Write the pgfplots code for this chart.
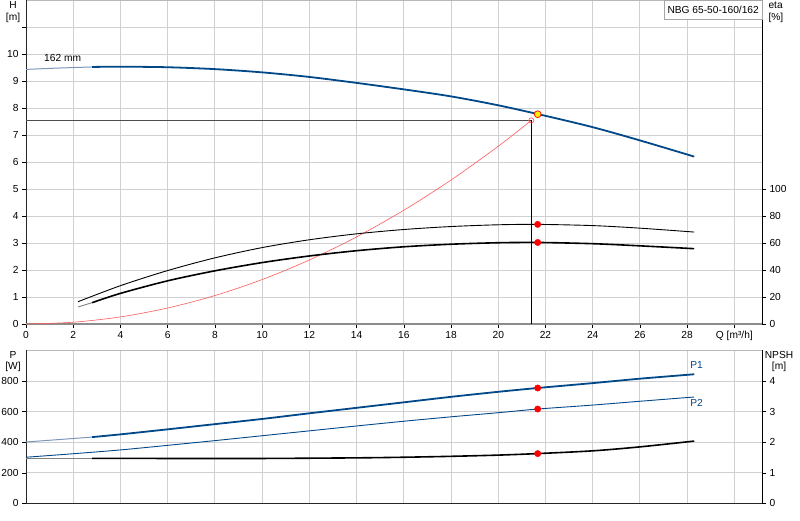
\documentclass[border=0pt]{standalone}
\usepackage{pgfplots}
\pgfplotsset{compat=1.18}
\usepackage{fontspec}
\setmainfont{Liberation Sans}

\definecolor{hblue}{RGB}{0,72,136}
\definecolor{hbluelight}{RGB}{125,150,185}
\definecolor{gridgray}{RGB}{208,208,212}
\definecolor{syscurve}{RGB}{255,90,90}
\newcommand\lblfont{\fontsize{10.2}{12}\selectfont}

\pgfplotsset{
  base/.style={
    scale only axis, width=736pt, xmin=0, xmax=31.17,
    anchor=south west, clip=false,
    axis line style={draw=none},
    tick style={black, line width=0.6pt},
    major tick length=4pt, tick align=outside,
    ticklabel style={font=\lblfont},
    /pgf/number format/assume math mode=true,
  },
  leftgrid/.style={
    grid=major, grid style={color=gridgray, line width=0.9pt},
    xtick={0,2,...,30}, xtick pos=bottom, ytick pos=left,
  },
  overlay/.style={
    xtick=\empty, ytick pos=right, yticklabel pos=right,
  },
}

\begin{document}
\begin{tikzpicture}[x=1pt,y=1pt]
\path[use as bounding box] (0,0) rectangle (800,-520);

% ---------- upper diagram: head ----------
\begin{axis}[base, leftgrid, at={(26pt,-324pt)}, height=324pt,
  ymin=0, ymax=12,
  ytick={0,1,2,3,4,5,6,7,8,9,10,11},
  yticklabels={0,1,2,3,4,5,6,7,8,9,10,{}},
  xticklabels={0,2,4,6,8,10,12,14,16,18,20,22,24,26,28,{Q [m³/h]}},
]
\draw[gray!55] (rel axis cs:0,1) -- (rel axis cs:1,1);
\draw[black!85, line width=1pt] (rel axis cs:0,0) -- (rel axis cs:0,1);
\draw[gray!90, line width=1.6pt] (rel axis cs:0,0) -- (rel axis cs:1,0);
\draw[black, line width=1pt] (rel axis cs:1,0) -- (rel axis cs:1,1);

% system curve
\addplot[syscurve, line width=0.6pt, smooth] coordinates {
  (0,0) (2,0.066) (4,0.263) (6,0.593) (8,1.053) (10,1.646) (12,2.370)
  (14,3.226) (16,4.214) (18,5.333) (20,6.584) (21.4,7.54)};
% duty point lines
\addplot[black!70, line width=0.8pt] coordinates {(0,7.54) (21.4,7.54)};
\addplot[black, line width=0.8pt] coordinates {(21.4,7.54) (21.4,0)};
% pump curve
\addplot[hbluelight, line width=1pt, smooth] coordinates {
  (0,9.43) (1.4,9.48) (2.8,9.52)};
\addplot[hblue, line width=1.8pt, smooth] coordinates {
  (2.8,9.52) (4,9.53) (6,9.51) (8,9.44) (10,9.32) (12,9.15) (14,8.93)
  (16,8.69) (18,8.43) (20,8.10) (22,7.71) (24,7.29) (26,6.80) (28.3,6.20)};
\addplot[only marks, mark=o, mark size=2.6pt, syscurve, line width=0.7pt]
  coordinates {(21.4,7.54)};
\addplot[only marks, mark=*, mark size=3.4pt, draw=red!85!orange,
  fill=yellow, line width=0.8pt] coordinates {(21.67,7.77)};
\node[font=\lblfont] at (axis cs:1.55,9.85) {162 mm};
\end{axis}

% ---------- upper diagram: efficiency ----------
\begin{axis}[base, overlay, at={(26pt,-324pt)}, height=324pt,
  ymin=0, ymax=240, ytick={0,20,40,60,80,100},
]
\addplot[black, line width=0.9pt, smooth] coordinates {
  (2.2,16.5) (4,28.4) (6,39.6) (8,49.0) (10,56.6) (12,62.4) (14,66.8)
  (16,70.0) (18,72.2) (20,73.5) (21.67,73.8) (24,72.9) (26,71.0) (28.3,68.1)};
\addplot[gray, line width=0.9pt] coordinates {(2.2,12.6) (2.8,15.8)};
\addplot[black, line width=1.6pt, smooth] coordinates {
  (2.8,15.8) (4,22.7) (6,32.0) (8,39.4) (10,45.5) (12,50.4) (14,54.3)
  (16,57.2) (18,59.1) (20,60.2) (21.67,60.4) (24,59.5) (26,57.9) (28.3,55.8)};
\addplot[only marks, mark=*, mark size=3.2pt, red] coordinates {
  (21.67,73.8) (21.67,60.4)};
\end{axis}

% ---------- lower diagram: power ----------
\begin{axis}[base, leftgrid, at={(26pt,-503.3pt)}, height=153.3pt,
  ymin=0, ymax=1005, ytick={0,200,400,600,800},
  xticklabels={}, xtick style={draw=none},
]
\draw[gray!55] (rel axis cs:0,1) -- (rel axis cs:1,1);
\draw[black!85, line width=1pt] (rel axis cs:0,0) -- (rel axis cs:0,1);
\draw[black!85, line width=1pt] (rel axis cs:0,0) -- (rel axis cs:1,0);
\draw[black, line width=1pt] (rel axis cs:1,0) -- (rel axis cs:1,1);

\addplot[hbluelight, line width=1pt, smooth] coordinates {
  (0,402) (1.4,418) (2.8,434)};
\addplot[hblue, line width=1.8pt, smooth] coordinates {
  (2.8,434) (4,452) (6,485) (8,519) (10,553) (12,590) (14,626) (16,662)
  (18,698) (20,731) (21.67,756) (24,788) (26,817) (28.3,846)};
\addplot[hblue, line width=0.9pt, smooth] coordinates {
  (0,302) (2,325) (4,350) (6,380) (8,411) (10,443) (12,475) (14,507)
  (16,538) (18,567) (20,594) (21.67,618) (24,644) (26,669) (28.3,697)};
\addplot[only marks, mark=*, mark size=3.2pt, red] coordinates {
  (21.67,756) (21.67,618)};
\node[hblue, font=\lblfont] at (axis cs:28.4,907) {P1};
\node[hblue, font=\lblfont] at (axis cs:28.4,658) {P2};
\end{axis}

% ---------- lower diagram: NPSH ----------
\begin{axis}[base, overlay, at={(26pt,-503.3pt)}, height=153.3pt,
  ymin=0, ymax=5.025, ytick={0,1,2,3,4},
]
\addplot[gray, line width=0.9pt] coordinates {(0,1.475) (2.8,1.475)};
\addplot[black, line width=1.6pt, smooth] coordinates {
  (2.8,1.475) (6,1.47) (10,1.47) (14,1.49) (16,1.51) (18,1.54) (20,1.58)
  (21.67,1.63) (24,1.72) (26,1.85) (28.3,2.04)};
\addplot[only marks, mark=*, mark size=3.2pt, red] coordinates {(21.67,1.63)};
\end{axis}

% ---------- captions ----------
\begin{scope}[font=\lblfont]
\node at (13,-5) {H};
\node at (13,-18) {[m]};
\node[anchor=west] at (765,-5) {eta};
\node[anchor=west] at (765,-18) {[\%]};
\node[draw=gray!70, fill=white, anchor=north east, minimum height=19pt,
  inner xsep=3pt] at (762,0) {NBG 65-50-160/162};
\node at (13,-355) {P};
\node at (13,-367) {[W]};
\node at (779,-355) {NPSH};
\node at (779,-367) {[m]};
\end{scope}
\end{tikzpicture}
\end{document}
